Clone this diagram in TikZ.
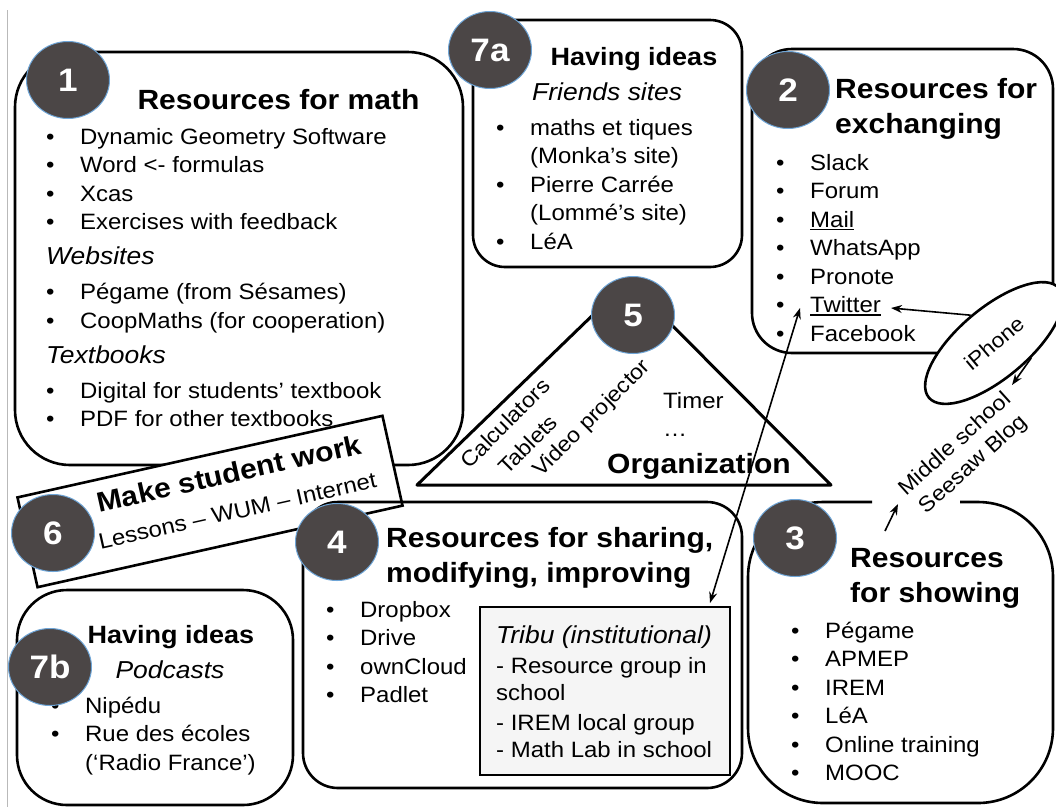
\documentclass[tikz,border=0pt]{standalone}
\usepackage{fontspec}
\setmainfont{Liberation Sans}[FakeStretch=1.08]
\usetikzlibrary{shapes.geometric, arrows.meta}

\definecolor{numgray}{RGB}{75,70,70}
\definecolor{numblue}{RGB}{110,165,215}
\newcommand{\itemdot}{\makebox[34pt][l]{\textbullet}}
\newcommand{\itemgap}{\hspace*{34pt}}
\newcommand{\subfont}{\fontsize{24.5}{28.5}\selectfont\itshape}
\newcommand{\uln}[1]{\setbox0\hbox{#1}\rlap{\rule[-3pt]{\wd0}{1.3pt}}\box0}

\begin{document}
\begin{tikzpicture}[
    x=1pt, y=-1pt,
    rbox/.style={draw, line width=2.6pt, inner sep=0pt},
    num/.style={ellipse, fill=numgray, draw=numblue, line width=1pt, minimum width=83pt, minimum height=77pt, inner sep=0pt, text=white, font=\fontsize{32.5}{33}\selectfont\bfseries},
    ttl/.style={inner sep=0pt, font=\fontsize{27.8}{35}\selectfont\bfseries},
    idea/.style={inner sep=0pt, anchor=base, font=\fontsize{25}{30}\selectfont\bfseries},
    sub/.style={inner sep=0pt, font=\subfont},
    lst/.style={inner sep=0pt, anchor=north west, align=left, font=\fontsize{22.2}{28.5}\selectfont},
    tilt/.style={inner sep=0pt, font=\fontsize{21.5}{27}\selectfont},
    arr/.style={-{Stealth[length=11pt, width=8pt]}, line width=1.6pt},
    dbl/.style={{Stealth[length=11pt, width=8pt]}-{Stealth[length=11pt, width=8pt]}, line width=1.6pt}
]
\useasboundingbox (0,0) rectangle (1056,807);

% page margin
\draw[gray!55, line width=1pt] (7,10) -- (7,807);

% 1: Resources for math
\node[rbox, rounded corners=55pt, minimum width=448pt, minimum height=413pt] (mathbox) at (239,258.5) {};
\node[ttl, anchor=base] (mathttl) at (278.5,109) {Resources for math};
\node[lst] (mathlist) at (46,124) {\strut\itemdot Dynamic Geometry Software\\
    \itemdot Word <- formulas\\
    \itemdot Xcas\\
    \itemdot Exercises with feedback\\[6.5pt]
    {\subfont Websites}\\[6.5pt]
    \itemdot Pégame (from Sésames)\\
    \itemdot CoopMaths (for cooperation)\\[6.5pt]
    {\subfont Textbooks}\\[6.5pt]
    \itemdot Digital for students’ textbook\\
    \itemdot PDF for other textbooks};

% 7a: Having ideas (friends sites)
\node[rbox, rounded corners=32pt, minimum width=269pt, minimum height=247pt] (sitebox) at (607.5,143.5) {};
\node[idea] (sitettl) at (634,65) {Having ideas};
\node[sub, anchor=base west] (sitesub) at (532,100) {Friends sites};
\node[lst] (sitelist) at (496,115) {\strut\itemdot maths et tiques\\
    \itemgap (Monka’s site)\\
    \itemdot Pierre Carrée\\
    \itemgap (Lommé’s site)\\
    \itemdot LéA};

% 2: Resources for exchanging
\node[rbox, rounded corners=40pt, minimum width=301pt, minimum height=304pt] (exchbox) at (902.5,201) {};
\node[ttl, anchor=north west, align=left] (exchttl) at (835,73.5) {\strut Resources for\\exchanging};
\node[lst] (exchlist) at (776,150) {\strut\itemdot Slack\\
    \itemdot Forum\\
    \itemdot \uln{Mail}\\
    \itemdot WhatsApp\\
    \itemdot Pronote\\
    \itemdot \uln{Twitter}\\
    \itemdot Facebook};

% iPhone and blog
\node[ellipse, draw, fill=white, line width=2.6pt, rotate=40, minimum width=170pt, minimum height=70pt, inner sep=0pt, font=\fontsize{21}{27}\selectfont] (iphone) at (994,343) {iPhone};
\node[tilt, align=center, rotate=42] (blog) at (964.5,454.5) {Middle school\\Seesaw Blog};

% 5: Organization
\draw[line width=3pt, line join=round] (417,485) -- (628,281) -- (831,485) -- cycle;
\node[tilt, anchor=base west, rotate=45] (calc) at (469,470) {Calculators};
\node[tilt, anchor=base west, rotate=45] (tabl) at (507,476) {Tablets};
\node[tilt, anchor=base west, rotate=45] (proj) at (541,478) {Video projector};
\node[lst, font=\fontsize{22.2}{28}\selectfont] (timer) at (663,388.4) {\strut Timer\\…};
\node[ttl, anchor=base west] (orgttl) at (607,473) {Organization};

% 6: Make student work
\node[draw, fill=white, line width=2.6pt, rotate=12.6, minimum width=374pt, minimum height=92pt, inner sep=0pt] (workbox) at (210,501.5) {};
\node[inner sep=0pt, align=center, rotate=12.6, font=\fontsize{22.2}{36}\selectfont] (worktxt) at (233,491) {{\fontsize{27.8}{35}\selectfont\bfseries Make student work}\\Lessons – WUM – Internet};

% 4: Resources for sharing
\node[rbox, rounded corners=35pt, minimum width=439pt, minimum height=286pt] (sharebox) at (522.5,645) {};
\node[ttl, anchor=north west, align=left] (sharettl) at (386,522.5) {\strut Resources for sharing,\\modifying, improving};
\node[lst] (sharelist) at (326,597) {\strut\itemdot Dropbox\\
    \itemdot Drive\\
    \itemdot ownCloud\\
    \itemdot Padlet};
\node[rbox, fill=gray!8, minimum width=250pt, minimum height=168pt] (tribubox) at (605,691) {};
\node[lst, font=\fontsize{22.2}{27}\selectfont] (tribulist) at (496,624.1) {\strut{\subfont Tribu (institutional)}\\[3pt]
    - Resource group in\\
    school\\[3pt]
    - IREM local group\\
    - Math Lab in school};

% 3: Resources for showing
\draw[line width=2.6pt, rounded corners=75pt] (960,502) -- (1053,502) -- (1053,803) -- (748,803) -- (748,502) -- (872,502);
\node[ttl, anchor=north west, align=left] (showttl) at (850,542.5) {\strut Resources\\for showing};
\node[lst] (showlist) at (791,618) {\strut\itemdot Pégame\\
    \itemdot APMEP\\
    \itemdot IREM\\
    \itemdot LéA\\
    \itemdot Online training\\
    \itemdot MOOC};

% 7b: Having ideas (podcasts)
\node[rbox, rounded corners=50pt, minimum width=276pt, minimum height=215pt] (podbox) at (155,697.5) {};
\node[idea] (podttl) at (171,643) {Having ideas};
\node[sub, anchor=base] (podsub) at (170,678) {Podcasts};
\node[lst] (podlist) at (51,693) {\strut\itemdot Nipédu\\
    \itemdot Rue des écoles\\
    \itemgap (‘Radio France’)};

% Number discs
\node[num] (n1) at (68,80) {1};
\node[num] (n7a) at (490,50) {7a};
\node[num] (n2) at (788,90) {2};
\node[num] (n5) at (633,315) {5};
\node[num] (n6) at (53,533) {6};
\node[num] (n4) at (337,542) {4};
\node[num] (n3) at (795,538) {3};
\node[num] (n7b) at (50,667) {7b};

% Arrows
\coordinate (twit) at (891,308);
\coordinate (blogtip) at (1012,385);
\coordinate (showtop) at (885,531);
\coordinate (blogfoot) at (898,504);
\coordinate (twitfoot) at (800,308);
\coordinate (tributop) at (710,603);
\draw[arr] (iphone.north) -- (twit);
\draw[arr] (iphone.-62) -- (blogtip);
\draw[arr] (showtop) -- (blogfoot);
\draw[dbl] (tributop) -- (twitfoot);

\end{tikzpicture}
\end{document}
